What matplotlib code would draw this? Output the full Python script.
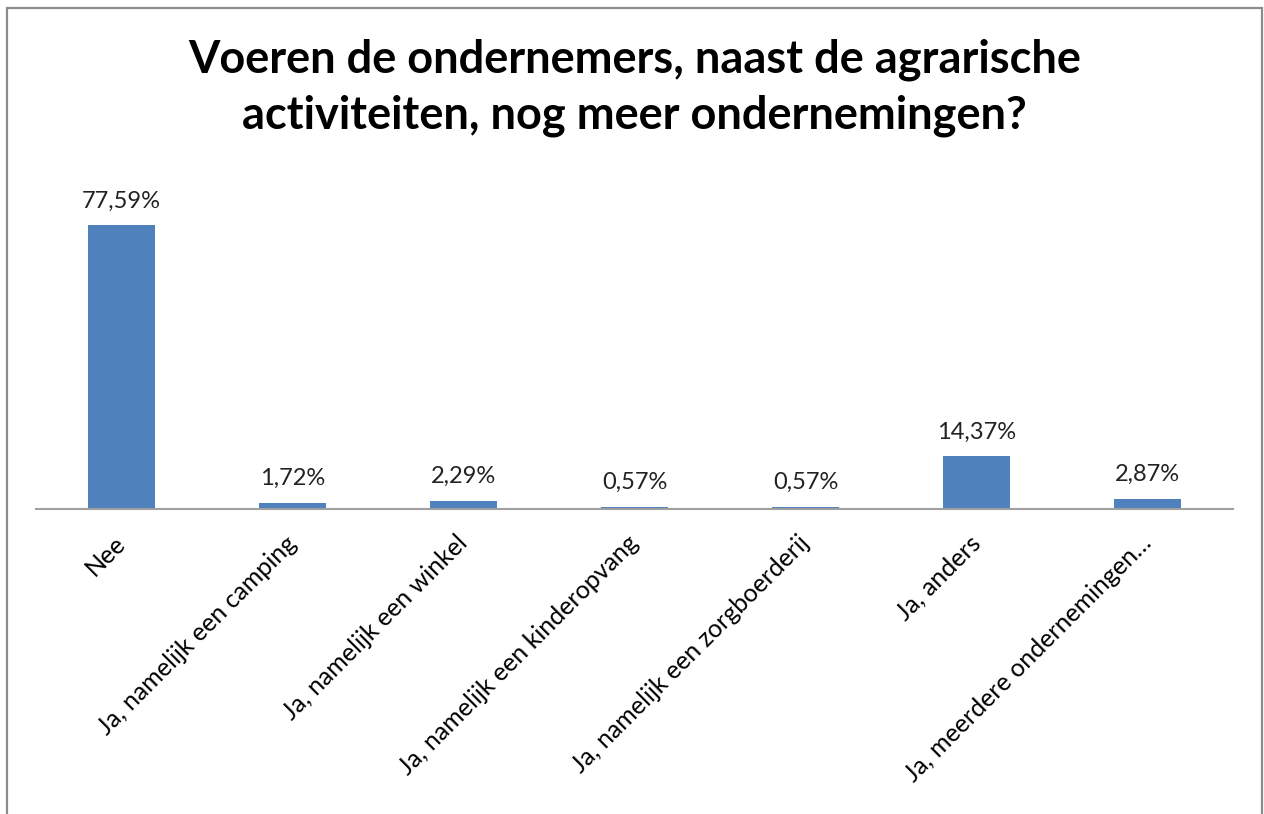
import matplotlib.pyplot as plt
from matplotlib.patches import Rectangle

categories = ['Nee', 'Ja, namelijk een camping', 'Ja, namelijk een winkel',
              'Ja, namelijk een kinderopvang', 'Ja, namelijk een zorgboerderij',
              'Ja, anders', 'Ja, meerdere ondernemingen…']
values = [77.59, 1.72, 2.29, 0.57, 0.57, 14.37, 2.87]
labels = ['77,59%', '1,72%', '2,29%', '0,57%', '0,57%', '14,37%', '2,87%']
title = 'Voeren de ondernemers, naast de agrarische\nactiviteiten, nog meer ondernemingen?'

plt.rcParams['font.family'] = ['Lato', 'DejaVu Sans']

fig = plt.figure(figsize=(12.64, 8.14), dpi=100)
# outer chart border (bottom edge runs off the picture)
fig.patches.append(Rectangle((7 / 1264, -0.05), 1255 / 1264, 1.05 - 8 / 814,
                             transform=fig.transFigure, fill=False,
                             edgecolor='#8c8c8c', linewidth=1.6))

ax = fig.add_axes([36 / 1264, 305 / 814, 1197 / 1264, 329 / 814])
x = range(len(categories))
bars = ax.bar(x, values, width=0.39, color='#4f81bd')
ax.set_xlim(-0.5, len(categories) - 0.5)
ax.set_ylim(0, 90)

for b, lab in zip(bars, labels):
    ax.annotate(lab, (b.get_x() + b.get_width() / 2, b.get_height()),
                xytext=(0, 10), textcoords='offset points',
                ha='center', va='bottom', fontsize=17, color='#222222')

for s in ['left', 'right', 'top']:
    ax.spines[s].set_visible(False)
ax.spines['bottom'].set_color('#a0a0a0')
ax.spines['bottom'].set_linewidth(1.5)
ax.set_yticks([])
ax.set_xticks(list(x))
ax.set_xticklabels(categories, rotation=45, ha='right', va='center',
                   rotation_mode='anchor', fontsize=18)
ax.tick_params(axis='x', length=0, pad=22)

fig.text(0.502, 0.953, title, ha='center', va='top', fontsize=32.5,
         fontweight='bold', linespacing=1.4)

fig.savefig('out.png', dpi=100)
